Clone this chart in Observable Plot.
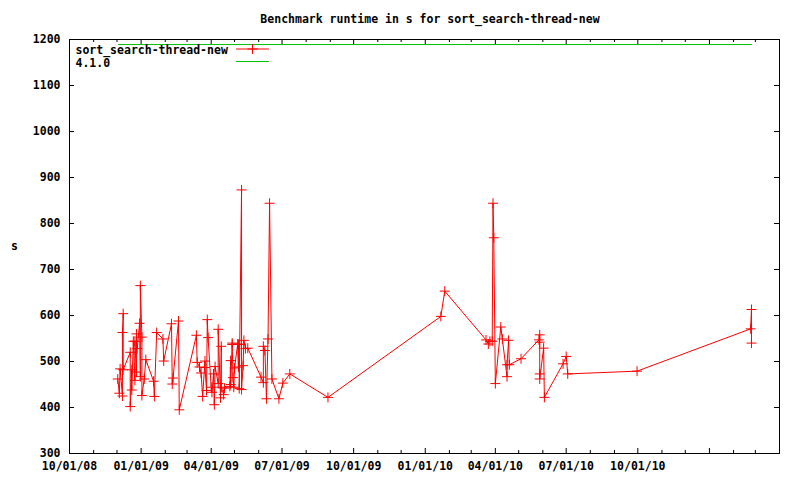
<!DOCTYPE html>
<html><head><meta charset="utf-8">
<script src="https://cdn.jsdelivr.net/npm/d3@7"></script>
<script src="https://cdn.jsdelivr.net/npm/@observablehq/plot@0.6"></script>
<style>
body{margin:0;background:#fff;}
#wrap{width:800px;height:480px;position:relative;background:#fff;color:#000;font-family:'DejaVu Sans Mono',monospace;font-weight:bold;font-size:11.5px;}
#title{height:30px;box-sizing:border-box;padding-top:12px;padding-left:60px;line-height:14px;text-align:center;white-space:pre;}
</style></head><body>
<div id="wrap"><div id="title">Benchmark runtime in s for sort_search-thread-new</div><div id="chart"></div></div>
<script>
const title = "Benchmark runtime in s for sort_search-thread-new";
const seriesName = "sort_search-thread-new";
const refName = "4.1.0";

const runDates = [
"2008-12-02","2008-12-04","2008-12-05","2008-12-08","2008-12-08","2008-12-09","2008-12-09","2008-12-18","2008-12-18","2008-12-20",
"2008-12-20","2008-12-22","2008-12-24","2008-12-24","2008-12-26","2008-12-26","2008-12-27","2008-12-30","2008-12-31","2008-12-31",
"2009-01-02","2009-01-02","2009-01-05","2009-01-07","2009-01-17","2009-01-18","2009-01-21","2009-01-29","2009-01-30","2009-02-09",
"2009-02-10","2009-02-11","2009-02-18","2009-02-19","2009-03-13","2009-03-14","2009-03-17","2009-03-19","2009-03-21","2009-03-24",
"2009-03-24","2009-03-26","2009-03-27","2009-03-28","2009-04-01","2009-04-02","2009-04-04","2009-04-05","2009-04-06","2009-04-10",
"2009-04-10","2009-04-13","2009-04-14","2009-04-14","2009-04-17","2009-04-18","2009-04-25","2009-04-26","2009-04-26","2009-04-28",
"2009-04-28","2009-04-29","2009-04-30","2009-05-01","2009-05-05","2009-05-06","2009-05-06","2009-05-07","2009-05-07","2009-05-10",
"2009-05-10","2009-05-12","2009-05-13","2009-05-15","2009-05-18","2009-06-04","2009-06-07","2009-06-07","2009-06-09","2009-06-11",
"2009-06-13","2009-06-15","2009-06-18","2009-06-27","2009-07-02","2009-07-11","2009-08-29","2010-01-21","2010-01-26","2010-03-20",
"2010-03-23","2010-03-25","2010-03-28","2010-03-29","2010-03-30","2010-04-01","2010-04-08","2010-04-10","2010-04-16","2010-04-16",
"2010-04-18","2010-04-19","2010-05-04","2010-05-27","2010-05-28","2010-05-28","2010-05-28","2010-05-28","2010-06-02","2010-06-03",
"2010-06-27","2010-07-01","2010-07-03","2010-09-30","2011-02-23","2011-02-24","2011-02-24"
];
const runtimes = [
462,431,484,425,563,604,482,520,402,482,
438,544,459,544,477,560,528,583,467,665,
553,426,462,504,457,424,563,549,501,582,
451,464,588,395,557,498,488,475,424,501,
487,437,591,552,444,433,473,406,489,452,
570,421,533,444,428,442,446,502,450,540,
537,465,444,486,538,488,537,537,441,873,
439,491,546,528,529,466,454,533,524,419,
549,844,462,419,453,473,422,598,653,547,
538,544,544,844,769,452,575,549,467,493,
546,493,506,547,558,542,473,462,529,422,
495,511,473,479,571,613,540
];
const refDates = ["2008-12-03","2011-02-24"];
const refValues = [1189,1189];

const xDomain = ["2008-10-01","2011-04-01"];
const majorTickDates = ["2008-10-01","2009-01-01","2009-04-01","2009-07-01","2009-10-01","2010-01-01","2010-04-01","2010-07-01","2010-10-01","2011-01-01","2011-04-01"];
const labeledTickDates = ["2008-10-01","2009-01-01","2009-04-01","2009-07-01","2009-10-01","2010-01-01","2010-04-01","2010-07-01","2010-10-01"];
const yTicks = [300,400,500,600,700,800,900,1000,1100,1200];
const yLabel = "s";

const runs = runDates.map((d,i)=>({date:new Date(d), value:runtimes[i]}));
const ref = refDates.map((d,i)=>({date:new Date(d), value:refValues[i]}));
const majors = majorTickDates.map(d=>new Date(d));
const labeled = labeledTickDates.map(d=>new Date(d));
const x0 = new Date(xDomain[0]), x1 = new Date(xDomain[1]);
const majorSet = new Set(majors.map(d=>+d));
const minors = d3.utcMonth.range(x0, x1).filter(d=>!majorSet.has(+d));

const W = 800, H = 450, mT = 9, mB = 27, mL = 69, mR = 21;
const innerH = H - mT - mB, innerW = W - mL - mR;
const RED = "#ff0000", GREEN = "#00c000";
const lineShape = {draw(ctx, l){ ctx.moveTo(0,0); ctx.lineTo(0,-l); }};
const CR = 3.3;

const chart = Plot.plot({
  width: W, height: H,
  marginTop: mT, marginBottom: mB, marginLeft: mL, marginRight: mR,
  style: {fontFamily:"'DejaVu Sans Mono', monospace", fontWeight:"bold", fontSize:"11.5px", color:"#000", background:"#fff"},
  x: {type:"utc", domain:[x0,x1]},
  y: {domain:[300,1200]},
  marks: [
    Plot.frame({stroke:"#000"}),
    Plot.tickX(majors, {x:d=>d, insetTop: innerH-5, stroke:"#000"}),
    Plot.tickX(majors, {x:d=>d, insetBottom: innerH-5, stroke:"#000"}),
    Plot.tickX(minors, {x:d=>d, insetTop: innerH-3, stroke:"#000"}),
    Plot.tickX(minors, {x:d=>d, insetBottom: innerH-3, stroke:"#000"}),
    Plot.tickY(yTicks, {y:d=>d, insetRight: innerW-5, stroke:"#000"}),
    Plot.tickY(yTicks, {y:d=>d, insetLeft: innerW-5, stroke:"#000"}),
    Plot.axisX({ticks: labeled, tickSize:0, tickPadding:8, tickFormat: d3.utcFormat("%m/%d/%y"), label:null}),
    Plot.axisY({ticks: yTicks, tickSize:0, tickPadding:9, tickFormat: d3.format("d"), label:null}),
    Plot.text([yLabel], {frameAnchor:"left", dx:-55, text:d=>d, textAnchor:"middle"}),
    Plot.line(ref, {x:"date", y:"value", stroke:GREEN, strokeWidth:1}),
    Plot.line(runs, {x:"date", y:"value", stroke:RED, strokeWidth:1}),
    Plot.dot(runs, {x:"date", y:"value", symbol:"plus", r:CR, stroke:RED, strokeWidth:1}),
    // legend
    Plot.text([seriesName], {frameAnchor:"top-left", dx:6, dy:10.5, text:d=>d, textAnchor:"start", lineAnchor:"middle"}),
    Plot.text([refName], {frameAnchor:"top-left", dx:6, dy:23.5, text:d=>d, textAnchor:"start", lineAnchor:"middle"}),
    Plot.vector([0], {frameAnchor:"top-left", dx:167, dy:9.5, length:32, rotate:90, anchor:"start", shape:lineShape, stroke:RED, strokeWidth:1}),
    Plot.dot([0], {frameAnchor:"top-left", dx:183, dy:9.5, symbol:"plus", r:CR, stroke:RED, strokeWidth:1}),
    Plot.vector([0], {frameAnchor:"top-left", dx:167, dy:22, length:32, rotate:90, anchor:"start", shape:lineShape, stroke:GREEN, strokeWidth:1})
  ]
});
document.getElementById("chart").appendChild(chart);
</script>
</body></html>
